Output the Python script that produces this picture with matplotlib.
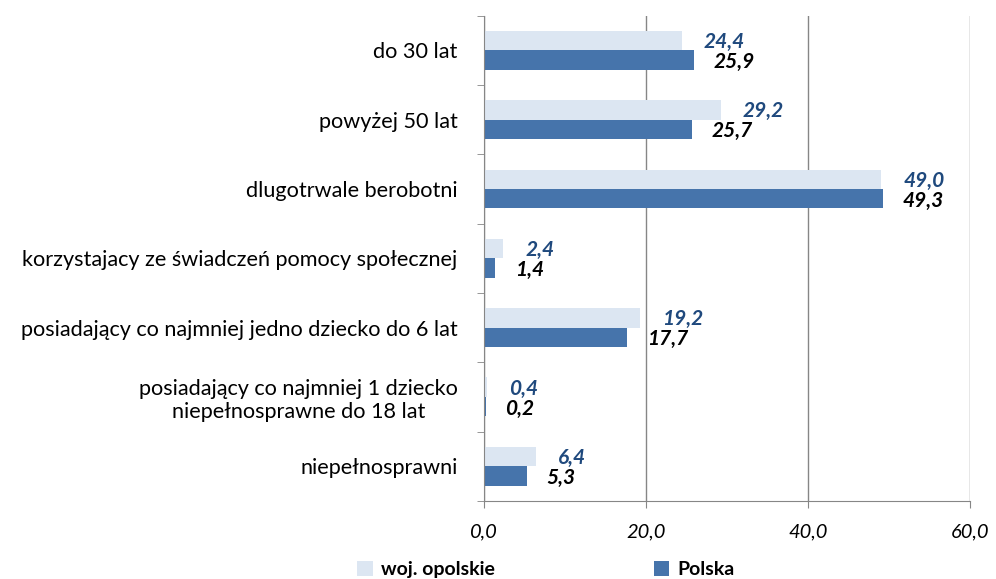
import numpy as np
import matplotlib.pyplot as plt

categories = ['do 30 lat', 'powyżej 50 lat', 'dlugotrwale berobotni',
              'korzystajacy ze świadczeń pomocy społecznej',
              'posiadający co najmniej jedno dziecko do 6 lat',
              'posiadający co najmniej 1 dziecko\nniepełnosprawne do 18 lat',
              'niepełnosprawni']
opolskie = [24.4, 29.2, 49.0, 2.4, 19.2, 0.4, 6.4]
polska = [25.9, 25.7, 49.3, 1.4, 17.7, 0.2, 5.3]

plt.rcParams['font.family'] = ['Lato', 'DejaVu Sans']

c_light = '#DCE6F2'
c_dark = '#4674AB'
c_lab = '#1F497D'

fig = plt.figure(figsize=(9.96, 5.79), dpi=100)
ax = fig.add_axes([0.486, 0.135, 0.488, 0.838])

y = np.arange(len(categories))
h = 0.28
ax.barh(y - h / 2, opolskie, height=h, color=c_light, label='woj. opolskie', zorder=2)
ax.barh(y + h / 2, polska, height=h, color=c_dark, label='Polska', zorder=2)

def fmt(v):
    return f'{v:.1f}'.replace('.', ',')

for i in range(len(categories)):
    ax.annotate(fmt(opolskie[i]), (opolskie[i], y[i] - h / 2), xytext=(16, -1),
                textcoords='offset points', ha='left', va='center', color=c_lab,
                fontsize=15, fontweight='bold', fontstyle='italic')
    ax.annotate(fmt(polska[i]), (polska[i], y[i] + h / 2), xytext=(14, -1.5),
                textcoords='offset points', ha='left', va='center', color='black',
                fontsize=15, fontweight='bold', fontstyle='italic')

ax.set_xlim(0, 60)
ax.set_ylim(len(categories) - 0.5, -0.5)
ax.set_xticks([0, 20, 40, 60])
ax.set_xticklabels([fmt(v) for v in [0, 20, 40, 60]], fontstyle='italic', fontsize=14.5)
ax.set_yticks(y)
ax.set_yticklabels(categories, fontsize=15.6)
ax.set_yticks(np.arange(len(categories) + 1) - 0.5, minor=True)
ax.tick_params(axis='y', which='major', length=0, pad=19)
ax.tick_params(axis='y', which='minor', length=5, color='#868686')
ax.tick_params(axis='x', length=5, color='#868686', pad=11)
ax.xaxis.grid(True, color='#868686', linewidth=1, zorder=0)
for s in ['top', 'right']:
    ax.spines[s].set_visible(False)
for s in ['left', 'bottom']:
    ax.spines[s].set_color('#868686')

for t in ax.get_yticklabels():
    t.set_multialignment('center')

fig.legend(loc='lower center', bbox_to_anchor=(0.548, -0.029), ncol=2, frameon=False,
           prop={'weight': 'bold', 'size': 14}, handlelength=0.8, handleheight=0.8,
           columnspacing=8.2, handletextpad=0.4)

fig.savefig('out.png', dpi=100)
